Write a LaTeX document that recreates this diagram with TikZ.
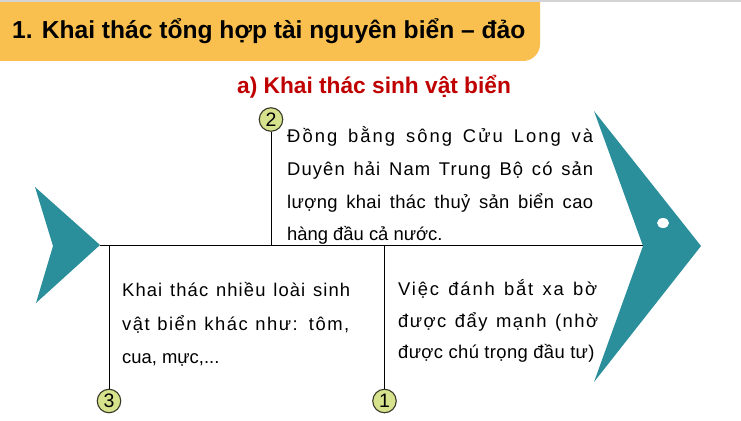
\documentclass[tikz,border=0pt]{standalone}
\usepackage{fontspec}
\setmainfont{Liberation Sans}
\definecolor{banner}{HTML}{FAC04F}
\definecolor{teal}{HTML}{2A8F9B}
\definecolor{subred}{HTML}{C00000}
\definecolor{numfill}{HTML}{D6E38C}
\definecolor{numline}{HTML}{3A3A2A}
\definecolor{topgray}{HTML}{D4D4D4}
\newcommand{\sline}[3]{\makebox[#1][s]{\addfontfeature{LetterSpace=#2}#3}}
\tikzset{
  fishpart/.style={fill=teal},
  num/.style={circle, draw=numline, line width=1.1pt, fill=numfill, minimum size=23.5pt, inner sep=0pt, font=\fontsize{19.5}{19.5}\selectfont},
  txt/.style={anchor=base west, inner sep=0pt, font=\fontsize{18.4}{18.4}\selectfont},
  bone/.style={draw=black, line width=1pt}
}
\begin{document}
\begin{tikzpicture}[x=1pt,y=-1pt]
\useasboundingbox (0,0) rectangle (741,420);
\fill[white] (0,0) rectangle (741,420);
% banner
\fill[banner, rounded corners=17pt] (-30,-30) rectangle (540,61);
\fill[topgray] (0,0) rectangle (741,2);
\node[anchor=base west, inner sep=0pt, font=\bfseries\fontsize{24.6}{24.6}\selectfont] (title) at (12,38.5) {1. Khai thác tổng hợp tài nguyên biển – đảo};
\node[anchor=base west, inner sep=0pt, text=subred, font=\bfseries\fontsize{22.7}{22.7}\selectfont] (sub) at (237,93) {a) Khai thác sinh vật biển};
% tail
\fill[fishpart] (35,187) -- (100,245) -- (36,303) -- (53,246) -- cycle;
% head
\fill[fishpart] (594,111) -- (701,246) -- (594,382) -- (643,246) -- cycle;
\fill[white] (663,223) ellipse[x radius=6, y radius=5];
% spine
\coordinate (tailtip) at (100,245);
\coordinate (headnotch) at (643,245);
\draw[bone] (tailtip) -- (headnotch);
% bones
\node[num] (n2) at (271,119.5) {2};
\node[num] (n3) at (109,401) {3};
\node[num] (n1) at (384.5,401) {1};
\coordinate (j2) at (271,245);
\coordinate (j3) at (109,245);
\coordinate (j1) at (384.5,245);
\draw[bone] (n2) -- (j2);
\draw[bone] (j3) -- (n3);
\draw[bone] (j1) -- (n1);
% text box 2
\node[txt] (t2a) at (287,142) {\sline{306pt}{11}{Đồng bằng sông Cửu Long và}};
\node[txt] (t2b) at (287,175) {\sline{306pt}{6}{Duyên hải Nam Trung Bộ có sản}};
\node[txt] (t2c) at (287,208) {\sline{306pt}{2}{lượng khai thác thuỷ sản biển cao}};
\node[txt] (t2d) at (287,240) {hàng đầu cả nước.};
% text box 3
\node[txt] (t3a) at (122,296) {\sline{228pt}{6}{Khai thác nhiều loài sinh}};
\node[txt] (t3b) at (122,330) {\sline{227pt}{8}{vật biển khác như: tôm,}};
\node[txt] (t3c) at (122,363) {cua, mực,...};
% text box 1
\node[txt] (t1a) at (398,295) {\sline{199pt}{10}{Việc đánh bắt xa bờ}};
\node[txt] (t1b) at (398,327) {\sline{200pt}{8}{được đẩy mạnh (nhờ}};
\node[txt] (t1c) at (398,358) {\addfontfeature{LetterSpace=2}được chú trọng đầu tư)};
\end{tikzpicture}
\end{document}
